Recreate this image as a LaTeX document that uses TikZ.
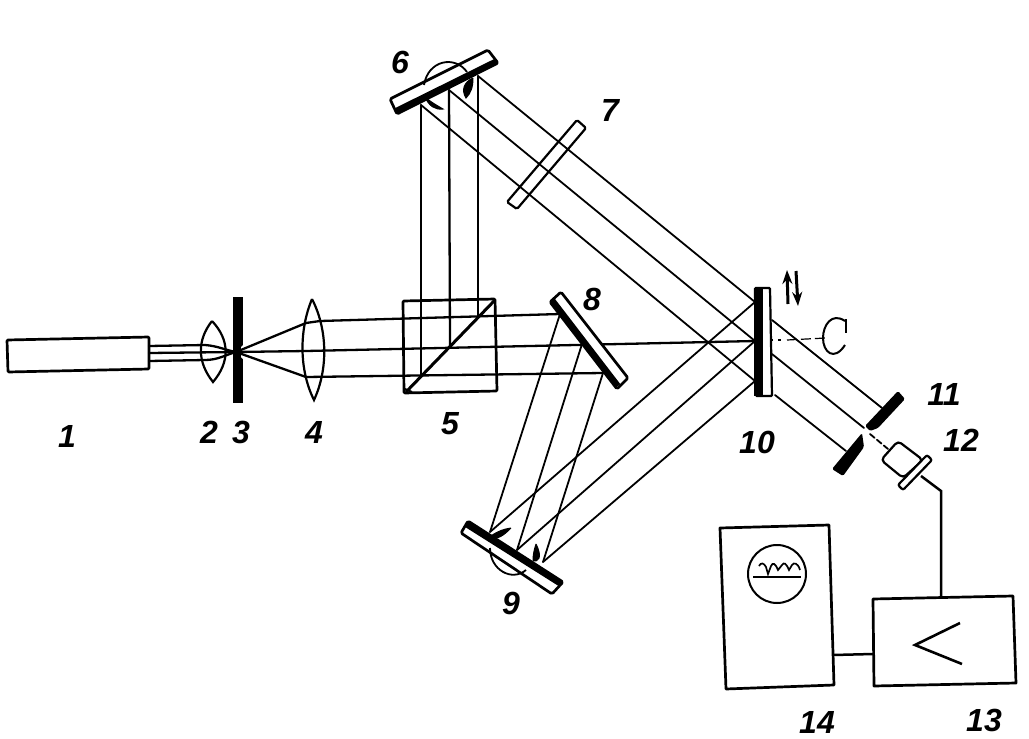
\documentclass[tikz,border=0pt]{standalone}
\usepackage{fontspec}
\setmainfont{Liberation Sans}
\usetikzlibrary{arrows.meta}
\tikzset{
  ray/.style={line width=1.8pt,line cap=round},
  heavyray/.style={line width=2.3pt,line cap=round},
  outline/.style={line width=2.7pt,line join=round,draw=black},
  optic/.style={outline,fill=white,rounded corners=1.5pt},
  backing/.style={line width=6pt,line cap=butt,draw=black},
  tagnum/.style={font=\bfseries\itshape\fontsize{32}{32}\selectfont,inner sep=0pt},
  crescent/.style={fill=black,draw=black,line width=1pt}
}
\begin{document}
\begin{tikzpicture}[x=1pt,y=-1pt]
\useasboundingbox (0,0) rectangle (1029,739);
% key ray points
\coordinate (focus) at (236,352);
\coordinate (m6a) at (421,105); \coordinate (m6b) at (449,90); \coordinate (m6c) at (478,76);
\coordinate (d5a) at (421,376); \coordinate (d5b) at (450,346); \coordinate (d5c) at (478,317);
\coordinate (m8a) at (560,314); \coordinate (m8c) at (603,373); \coordinate (m8b) at (582,344);
\coordinate (m9a) at (490,532); \coordinate (m9b) at (517,550); \coordinate (m9c) at (543,562);
\coordinate (p10u) at (755,302); \coordinate (p10m) at (755,341); \coordinate (p10l) at (755,381);
% laser
\draw[outline,rounded corners=1pt,fill=white] (7,340) -- (149,337) -- (149,369) -- (8,372) -- cycle;
% beams laser to slit
\draw[heavyray] (149,346) -- (205,345) .. controls (218,346) and (225,350) .. (focus);
\draw[heavyray] (149,353) -- (focus);
\draw[heavyray] (149,361) -- (205,360) .. controls (218,360) and (225,355) .. (focus);
% slit 3
\fill[black] (233,297) rectangle (243,403);
\fill[white] (241,347) -- (244,344) -- (244,360) -- (241,357) -- cycle;
% rays slit to lens 4, then on
\draw[heavyray] (focus) -- (306,323);
\draw[heavyray] (focus) -- (306,377);
\draw[heavyray] (focus) -- (306,351);
\draw[heavyray] (306,323) -- (320,321) -- (m8a);
\draw[heavyray] (306,351) -- (p10m);
\draw[heavyray] (306,377) -- (m8c);
% lenses
\draw[line width=2.2pt] (212,321) .. controls (197,340) and (197,362) .. (213,382) .. controls (230,362) and (230,340) .. (212,321);
\draw[line width=2.2pt] (312,299) .. controls (299,330) and (299,370) .. (314,400) .. controls (328,370) and (328,330) .. (312,299);
% cube 5
\draw[outline,rounded corners=1pt] (403,301) -- (495,299) -- (497,391) -- (404,393) -- cycle;
\draw[line width=3pt] (406,392) -- (495,300);
\draw[line width=2pt] (405,389) -- (412,392);
% vertical beams
\draw[heavyray] (m6a) -- (d5a);
\draw[heavyray] (m6b) -- (d5b);
\draw[heavyray] (m6c) -- (d5c);
% beams 6 to 10
\draw[ray] (m6c) -- (p10u);
\draw[ray] (m6b) -- (p10m);
\draw[ray] (m6a) -- (p10l);
% plate 7 (beams visibly cross it)
\draw[line width=2.2pt,rounded corners=1.5pt] (577,120) -- (586,128) -- (517,209) -- (507,202) -- cycle;
% beams 8 to 9
\draw[ray] (m8a) -- (m9a);
\draw[ray] (m8b) -- (m9b);
\draw[ray] (m8c) -- (m9c);
% beams 9 to 10
\draw[ray] (m9a) -- (p10u);
\draw[ray] (m9b) -- (p10m);
\draw[ray] (m9c) -- (p10l);
% mirror 6
\draw[optic] (390,99) -- (488,50) -- (498,63) -- (397,114) -- cycle;
\draw[backing] (396,111) -- (497,61);
\draw[line width=1.8pt] (424,85) .. controls (428,60) and (455,55) .. (467,72);
\fill[crescent] (425,97) .. controls (432,103) and (438,106) .. (443,109) .. controls (435,110) and (429,106) .. (425,97);
\fill[crescent] (473,78) .. controls (473,87) and (471,93) .. (466,98) .. controls (461,90) and (464,82) .. (473,78);
% mirror 8
\draw[optic] (561,292) -- (628,378) -- (617,389) -- (550,302) -- cycle;
\draw[backing] (552,300) -- (618,386);
% mirror 9
\draw[optic] (468,521) -- (563,582) -- (552,594) -- (461,533) -- cycle;
\draw[backing] (466,524) -- (561,584);
\draw[line width=1.8pt] (490,548) .. controls (490,570) and (512,582) .. (526,570);
\fill[crescent] (511,528) .. controls (504,529) and (498,531) .. (491,536) .. controls (497,541) and (504,535) .. (511,528);
\fill[crescent] (536,544) .. controls (534,550) and (533,555) .. (533,561) .. controls (538,562) and (543,558) .. (536,544);
% plate 10
\draw[line width=2.2pt,fill=white,rounded corners=1pt] (755,288) -- (770,288) -- (772,396) -- (756,396) -- cycle;
\fill[black] (754,288) rectangle (763,396);
% beams past plate 10
\draw[ray] (772,320) -- (882,408);
\draw[ray] (772,354) -- (864,428);
\draw[ray] (775,395) -- (846,451);
\draw[ray,dash pattern=on 6pt off 3pt] (870,434) -- (888,449);
% axis
\draw[line width=1.2pt,dash pattern=on 3pt off 5pt] (770,340) -- (784,340);
\draw[line width=1.2pt,dash pattern=on 10pt off 4pt] (787,340) -- (826,338);
% rotation sign
\draw[line width=2pt] (845,321) .. controls (832,312) and (823,325) .. (823,338) .. controls (823,352) and (834,362) .. (845,345);
\draw[line width=2.5pt] (846,319) -- (846,333);
% translation arrows
\draw[line width=3pt,-{Stealth[length=14pt,width=10pt]}] (788,304) -- (787,270);
\draw[line width=3pt,-{Stealth[length=14pt,width=10pt]}] (796,271) -- (798,306);
% stops 11
\fill[black,rounded corners=1.5pt] (898,391) -- (905,399) -- (878,428) -- (870,431) -- (865,426) -- cycle;
\fill[black,rounded corners=1.5pt] (862,433) -- (864,447) -- (843,476) -- (832,469) -- cycle;
% detector 12
\draw[line width=2.2pt,fill=white,rounded corners=4pt] (898,441) -- (923,460) -- (903,478) -- (881,460) -- cycle;
\draw[line width=2.2pt,fill=white,rounded corners=2pt] (927,455) -- (932,460) -- (903,490) -- (898,485) -- cycle;
% wire 12 to 13
\coordinate (amptop) at (941,597);
\draw[line width=2.5pt] (921,476) -- (941,491) -- (amptop);
% amplifier 13
\draw[outline] (873,599) -- (1013,596) -- (1016,683) -- (874,686) -- cycle;
\draw[line width=2.6pt] (960,623) -- (915,645) -- (962,664);
% scope 14
\draw[outline] (720,528) -- (829,525) -- (834,685) -- (726,689) -- cycle;
\node[circle,draw=black,line width=2pt,minimum size=58pt,inner sep=0pt] (screen) at (777,574) {};
\draw[line width=1.7pt] (759,566) .. controls (761,562) and (764,563) .. (766,567) -- (768,574) -- (771,566) .. controls (773,562) and (775,563) .. (778,570) -- (782,565) .. controls (784,562) and (786,563) .. (789,570) -- (792,565) .. controls (794,562) and (798,563) .. (800,570);
\draw[line width=1.5pt] (753,577) -- (801,577);
\coordinate (scoperight) at (833,655); \coordinate (ampleft) at (873,654);
\draw[line width=2.5pt] (scoperight) -- (ampleft);
% labels
\node[tagnum] (n1) at (67,436) {1};
\node[tagnum] (n2) at (209,432) {2};
\node[tagnum] (n3) at (241,432) {3};
\node[tagnum] (n4) at (314,432) {4};
\node[tagnum] (n5) at (450,424) {5};
\node[tagnum] (n6) at (400,62) {6};
\node[tagnum] (n7) at (610,110) {7};
\node[tagnum] (n8) at (592,299) {8};
\node[tagnum] (n9) at (511,603) {9};
\node[tagnum] (n10) at (757,442) {10};
\node[tagnum] (n11) at (944,394) {11};
\node[tagnum] (n12) at (961,440) {12};
\node[tagnum] (n13) at (984,720) {13};
\node[tagnum] (n14) at (817,722) {14};
\end{tikzpicture}
\end{document}
